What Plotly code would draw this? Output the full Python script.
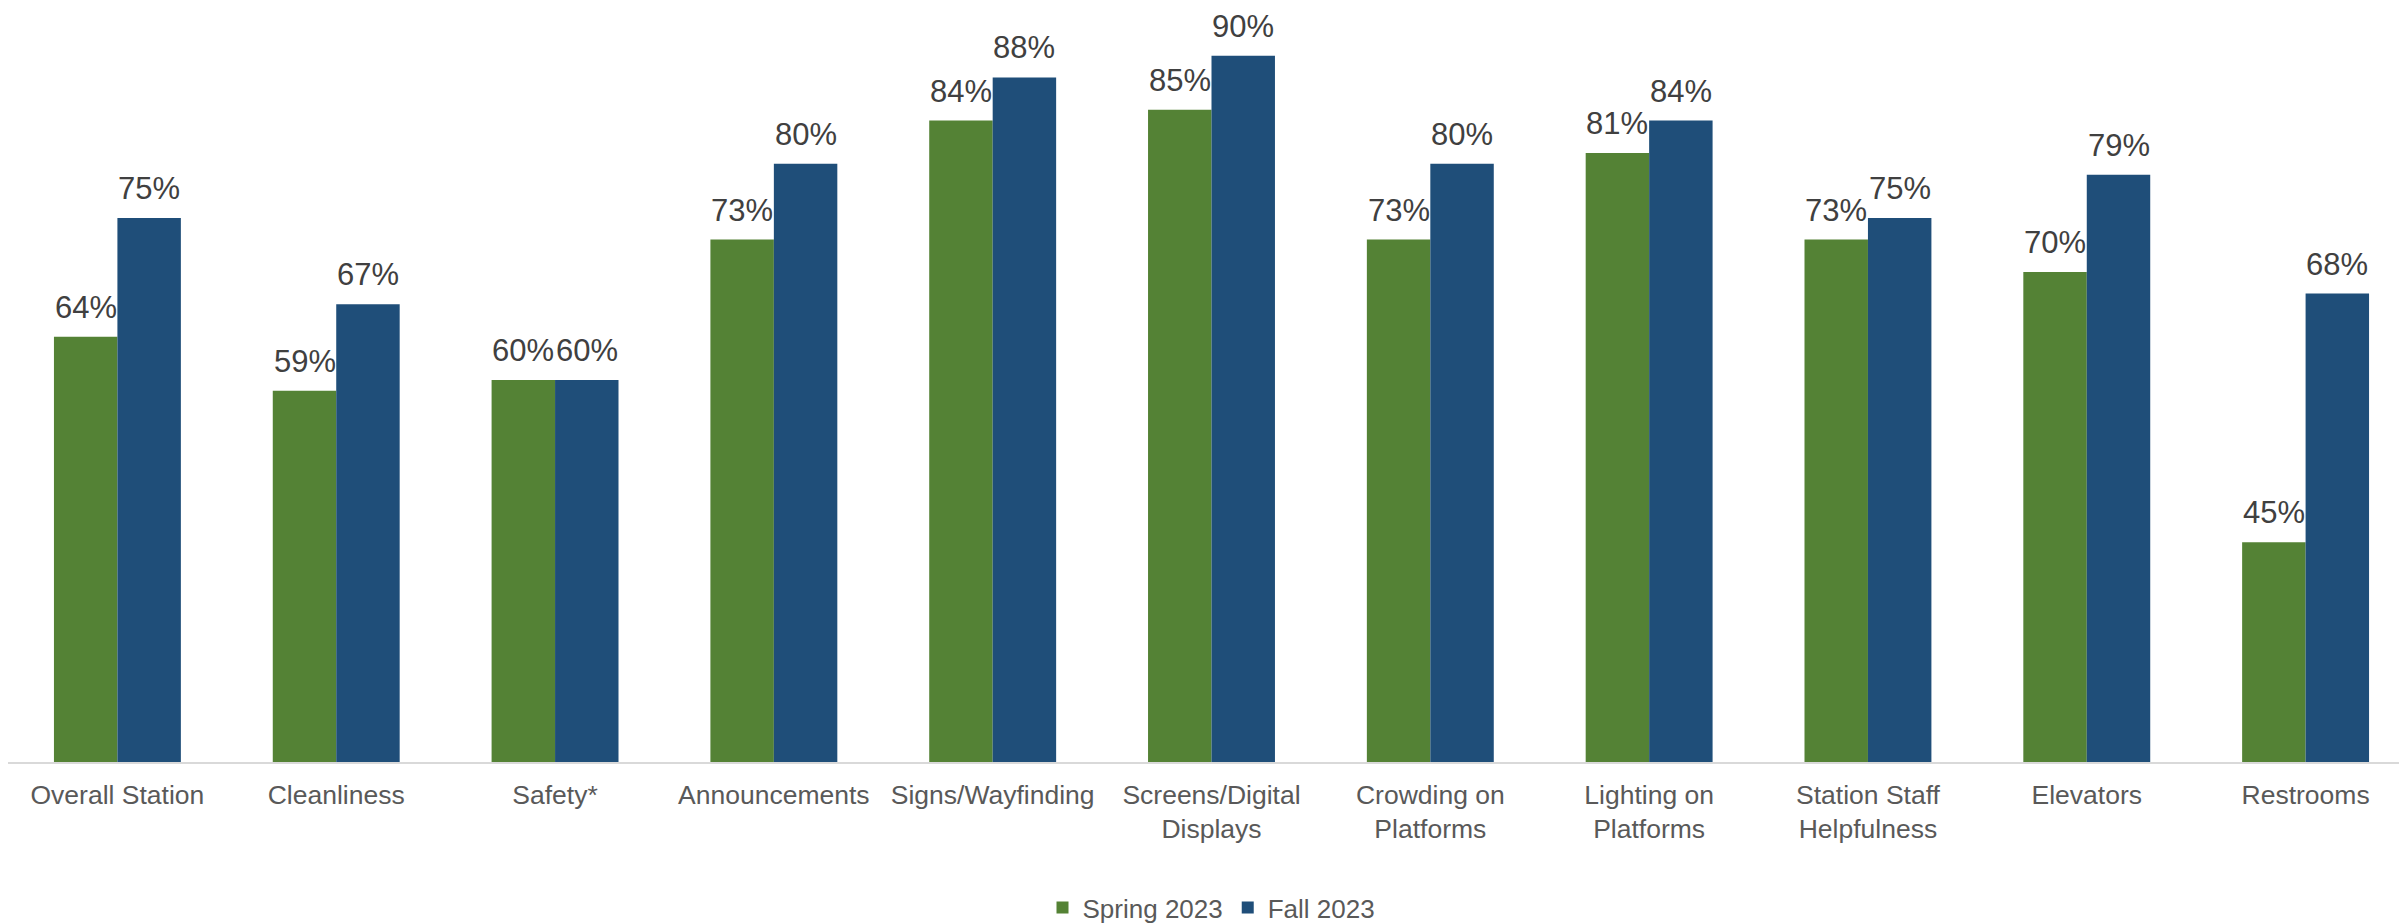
import plotly.graph_objects as go

categories = ["Overall Station", "Cleanliness", "Safety*", "Announcements", "Signs/Wayfinding",
              "Screens/Digital<br>Displays", "Crowding on<br>Platforms", "Lighting on<br>Platforms",
              "Station Staff<br>Helpfulness", "Elevators", "Restrooms"]
spring_2023 = [0.64, 0.59, 0.60, 0.73, 0.84, 0.85, 0.73, 0.81, 0.73, 0.70, 0.45]
fall_2023 = [0.75, 0.67, 0.60, 0.80, 0.88, 0.90, 0.80, 0.84, 0.75, 0.79, 0.68]
series_names = ["Spring 2023", "Fall 2023"]
y_min, y_max = 0.2466, 0.9442

GREEN = "#548235"
BLUE = "#1F4E79"
FONT = "Arial, Liberation Sans, sans-serif"
BARGAP = 0.42

fig = go.Figure()
for name, vals, col in [(series_names[0], spring_2023, GREEN), (series_names[1], fall_2023, BLUE)]:
    fig.add_trace(go.Bar(x=categories, y=vals, name=name, marker=dict(color=col, line=dict(width=0))))

# data labels above each bar
half = (1 - BARGAP) / 4
annotations = []
for k, vals in enumerate([spring_2023, fall_2023]):
    off = -half if k == 0 else half
    for i, v in enumerate(vals):
        annotations.append(dict(
            x=i + off, y=v, xref="x", yref="y", text=f"{round(v*100)}%",
            showarrow=False, yanchor="bottom", xanchor="center", yshift=10,
            font=dict(family=FONT, size=31, color="#404040")))

fig.update_layout(
    width=2407, height=923,
    margin=dict(l=0, r=0, t=0, b=161),
    paper_bgcolor="white", plot_bgcolor="white",
    barmode="group", bargap=BARGAP, bargroupgap=0,
    annotations=annotations,
    showlegend=True,
    legend=dict(orientation="h", x=0.5, xanchor="center", y=-0.193, yanchor="middle",
                font=dict(family=FONT, size=26, color="#595959"), itemwidth=30,
                traceorder="normal"),
    font=dict(family=FONT),
)
fig.update_xaxes(showline=True, linecolor="#D9D9D9", linewidth=2, showgrid=False, ticks="",
                 tickfont=dict(family=FONT, size=26.5, color="#595959"), tickangle=0,
                 ticklabelstandoff=8)
fig.update_yaxes(range=[y_min, y_max], visible=False, showgrid=False)

fig.write_html("out.html")
